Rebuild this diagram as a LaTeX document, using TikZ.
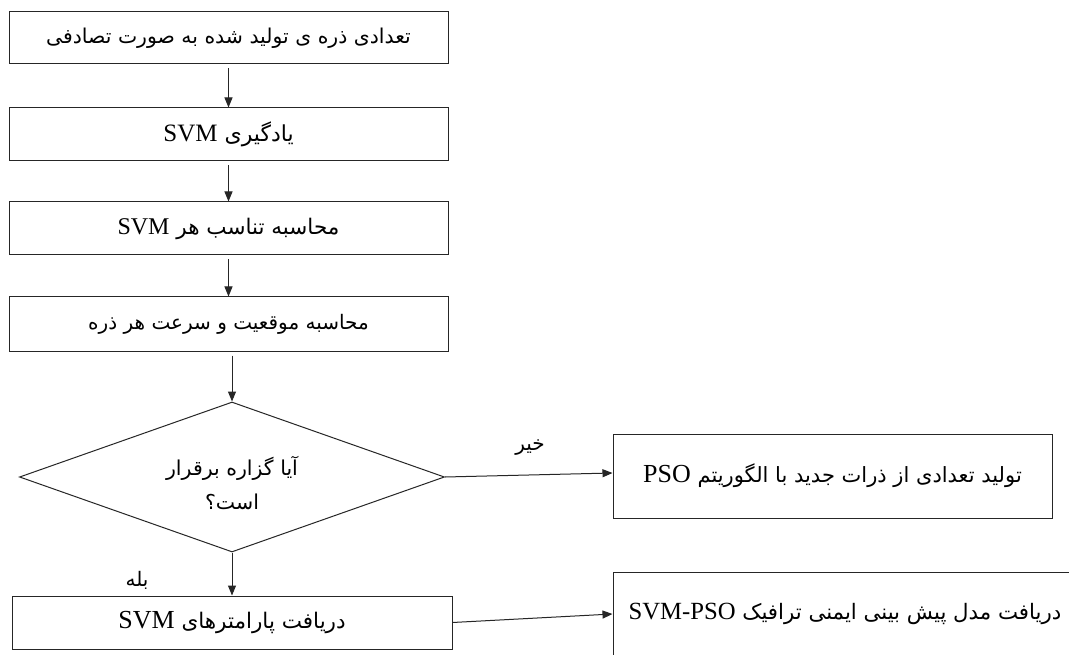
\documentclass[tikz,border=0pt]{standalone}
\usepackage{fontspec}
\setmainfont{Liberation Serif}
\newfontfamily\fa[Script=Arabic]{DejaVu Sans}
\TeXXeTstate=1
\usetikzlibrary{arrows.meta,shapes.geometric}
\newcommand{\ar}[1]{\fa\fontsize{#1}{#1}\selectfont}
\newcommand{\lat}[2]{\beginL{\rmfamily\fontsize{#1}{#1}\selectfont #2}\endL}
\tikzset{
  flowbox/.style={draw=black!85, line width=1pt, rectangle, inner sep=0pt},
  decision/.style={draw=black!85, line width=1pt, diamond, inner sep=0pt, align=center},
  flowarrow/.style={draw=black!85, line width=1pt, -{Triangle[length=10pt,width=8pt]}},
  lbl/.style={inner sep=0pt}
}
\begin{document}
\begin{tikzpicture}[x=1pt,y=-1pt]
\clip (0,0) rectangle (1069,655);
\fill[white] (0,0) rectangle (1069,655);
\node[flowbox, minimum width=439pt, minimum height=52pt] (b1) at (228.5,38) {\ar{20.4}\beginR تعدادی ذره ی تولید شده به صورت تصادفی\endR};
\node[flowbox, minimum width=439pt, minimum height=53pt] (b2) at (228.5,134.5) {\ar{22}\beginR یادگیری \lat{25}{SVM}\endR};
\node[flowbox, minimum width=439pt, minimum height=53pt] (b3) at (228.5,228.5) {\ar{21.5}\beginR محاسبه تناسب هر \lat{24}{SVM}\endR};
\node[flowbox, minimum width=439pt, minimum height=54pt] (b4) at (228.5,324) {\ar{20}\beginR محاسبه موقعیت و سرعت هر ذره\endR};
\node[decision, minimum width=425pt, minimum height=150pt] (d) at (232,477) {};
\node[lbl, align=center] (dt) at (232,483) {\ar{20.5}\beginR آیا گزاره برقرار\endR\\[12pt]\ar{20.5}\beginR است؟\endR};
\node[flowbox, minimum width=440pt, minimum height=53pt] (b6) at (232,622.5) {\ar{21.5}\beginR دریافت پارامترهای \lat{26}{SVM}\endR};
\node[flowbox, minimum width=439pt, minimum height=84pt] (b5) at (832.5,476) {\ar{21}\beginR تولید تعدادی از ذرات جدید با الگوریتم \lat{26}{PSO}\endR};
\node[flowbox, minimum width=546pt, minimum height=118pt] (b7) at (886,631) {};
\node[lbl] (t7) at (845,614) {\ar{21.3}\beginR دریافت مدل پیش بینی ایمنی ترافیک \lat{24.7}{SVM-PSO}\endR};
\node[lbl] (yes) at (137,580) {\ar{20}\beginR بله\endR};
\node[lbl] (no) at (530,448) {\ar{20}\beginR خیر\endR};
\draw[flowarrow, shorten <=4pt] (b1.south) -- (b2.north);
\draw[flowarrow, shorten <=4pt] (b2.south) -- (b3.north);
\draw[flowarrow, shorten <=4pt] (b3.south) -- (b4.north);
\draw[flowarrow, shorten <=4pt] (b4.south -| d.north) -- (d.north);
\draw[flowarrow] (d.south) -- (b6.north);
\draw[flowarrow] (d.east) -- ([yshift=3pt]b5.west);
\draw[flowarrow] (b6.east) -- ([yshift=17pt]b7.west);
\end{tikzpicture}
\end{document}
